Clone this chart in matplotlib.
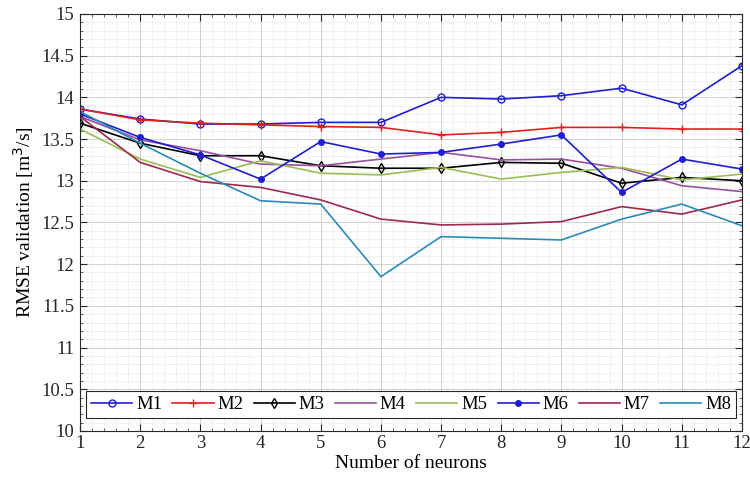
import numpy as np
import matplotlib
matplotlib.use("Agg")
import matplotlib.pyplot as plt
from matplotlib.ticker import MultipleLocator

plt.rcParams['font.family'] = ['Liberation Serif', 'DejaVu Serif']

neurons = list(range(1, 13))

m1 = [13.86, 13.74, 13.68, 13.68, 13.70, 13.70, 14.00, 13.98, 14.02, 14.11, 13.91, 14.38]
m2 = [13.86, 13.73, 13.69, 13.67, 13.65, 13.64, 13.55, 13.58, 13.64, 13.64, 13.62, 13.62]
m3 = [13.69, 13.45, 13.30, 13.30, 13.18, 13.15, 13.15, 13.22, 13.21, 12.97, 13.04, 13.00]
m4 = [13.77, 13.49, 13.36, 13.20, 13.18, 13.26, 13.34, 13.25, 13.26, 13.15, 12.94, 12.87]
m5 = [13.62, 13.26, 13.04, 13.24, 13.09, 13.07, 13.16, 13.02, 13.10, 13.16, 13.01, 13.08]
m6 = [13.80, 13.52, 13.31, 13.02, 13.47, 13.32, 13.34, 13.44, 13.55, 12.86, 13.26, 13.14]
m7 = [13.77, 13.22, 12.99, 12.92, 12.77, 12.54, 12.47, 12.48, 12.51, 12.69, 12.60, 12.77]
m8 = [13.83, 13.45, 13.09, 12.76, 12.72, 11.85, 12.33, 12.31, 12.29, 12.54, 12.72, 12.46]

series = [
    ("M1", m1, dict(color="#1f1fd0", marker="o", mfc="none", ms=5, mew=1.0)),
    ("M2", m2, dict(color="#e02020", marker="+", ms=6, mew=1.0)),
    ("M3", m3, dict(color="#000000", marker="d", mfc="none", ms=5, mew=1.0)),
    ("M4", m4, dict(color="#9a50a0")),
    ("M5", m5, dict(color="#9cbc55")),
    ("M6", m6, dict(color="#1f1fd0", marker=".", ms=8)),
    ("M7", m7, dict(color="#9c2a48")),
    ("M8", m8, dict(color="#2a8ab8")),
]

fig = plt.figure(figsize=(7.5, 4.82), dpi=100)
ax = fig.add_axes([0.1067, 0.106, 0.8826, 0.865])

for name, vals, style in series:
    ax.plot(neurons, vals, lw=1.2, label=name, **style)

ax.set_xlim(1, 12)
ax.set_ylim(10, 15)
ax.xaxis.set_major_locator(MultipleLocator(1))
ax.xaxis.set_minor_locator(MultipleLocator(0.2))
ax.set_yticks(np.arange(10, 15.01, 0.5))
ax.set_yticklabels([f"{v:g}" for v in np.arange(10, 15.01, 0.5)])
ax.yaxis.set_minor_locator(MultipleLocator(0.1))

ax.grid(which="major", color="#d0d0d0", lw=0.7, ls="-")
ax.grid(which="minor", color="#c8c8c8", lw=0.5, ls=(0, (1, 2)))
ax.set_axisbelow(True)

ax.tick_params(which="both", direction="in", top=True, right=True, labelsize=13.5, colors="#262626")
ax.tick_params(which="major", length=5, width=0.8)
ax.tick_params(which="minor", length=2.5, width=0.5)
ax.tick_params(axis="x", pad=3)
ax.tick_params(axis="y", pad=4)
for sp in ax.spines.values():
    sp.set_color("#262626")
    sp.set_linewidth(0.8)

ax.set_xlabel("Number of neurons", fontsize=14, labelpad=2)
ax.set_ylabel("RMSE validation [m$^3$/s]", fontsize=14, labelpad=4)

leg = ax.legend(loc="lower center", ncol=8, fontsize=13.5, frameon=True, fancybox=False,
                edgecolor="#262626", framealpha=1, handlelength=2.2, handletextpad=0.2,
                columnspacing=0.55, borderpad=0.25, borderaxespad=0,
                bbox_to_anchor=(0.5, 0.031))
leg.get_frame().set_linewidth(0.8)

fig.savefig("out.png", dpi=100, facecolor="white")
